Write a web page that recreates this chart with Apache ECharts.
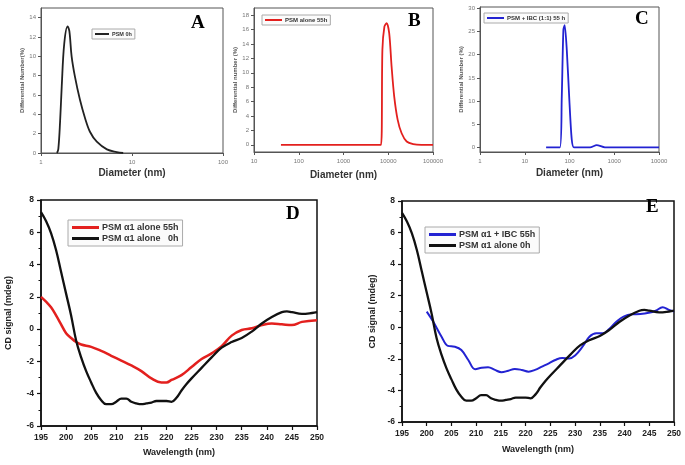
<!DOCTYPE html>
<html>
<head>
<meta charset="utf-8">
<script src="https://cdn.jsdelivr.net/npm/echarts@6/dist/echarts.min.js"></script>
<style>
html, body { margin: 0; padding: 0; background: #fff; }
#chart { width: 685px; height: 465px; }
</style>
</head>
<body>
<div id="chart"></div>
<script>
// --- DLS size distributions (diameter nm -> differential number %) ---
const sizeA = [1.5, 1.55, 1.62, 1.69, 1.8, 1.96, 2.05, 2.17, 2.36, 2.68, 3.05, 3.45, 4.1, 5.3, 6.8, 8];
const numA  = [0, 0.4, 3.2, 6.9, 11.3, 13.1, 12.6, 10.0, 7.9, 5.5, 3.6, 2.2, 1.17, 0.38, 0.1, 0];

const sizeB = [40, 100, 1000, 6900, 7400, 8200, 9200, 10500, 11900, 13600, 16200, 19900, 25800, 36000, 55000, 100000];
const numB  = [0, 0, 0, 0, 13.2, 16.4, 16.9, 15.5, 10.8, 6.7, 3.5, 1.6, 0.46, 0.1, 0, 0];

const sizeC = [30, 61, 67, 73, 78, 87, 99, 112, 126, 288, 405, 620, 10000];
const numC  = [0, 0, 10.4, 25.4, 26.4, 21, 10.4, 1.8, 0, 0, 0.5, 0, 0];

// --- CD spectra (wavelength nm -> mdeg) ---
const wl55 = [195, 196, 197, 198, 199, 200, 201, 202, 203, 205, 207, 209, 211, 213, 215, 217, 219, 220, 221, 223, 225, 227, 229, 231, 233, 235, 237, 239, 241, 243, 245, 247, 250];
const cd55 = [2.0, 1.7, 1.35, 0.85, 0.3, -0.25, -0.55, -0.8, -0.95, -1.1, -1.35, -1.65, -1.95, -2.25, -2.6, -3.05, -3.3, -3.3, -3.15, -2.85, -2.35, -1.85, -1.5, -1.05, -0.4, -0.05, 0.05, 0.25, 0.35, 0.3, 0.25, 0.45, 0.55];

const wl0h = [195, 196, 197, 198, 199, 200, 201, 202, 203, 204, 205, 206, 207, 208, 209, 210, 211, 212, 213, 214, 215, 216, 217, 218, 219, 220, 221, 222, 223, 224, 225, 227, 229, 231, 233, 235, 237, 239, 241, 243, 244, 245, 247, 249, 250];
const cd0h = [7.25, 6.7, 5.95, 4.9, 3.55, 2.2, 0.85, -0.7, -1.75, -2.6, -3.3, -3.95, -4.4, -4.65, -4.65, -4.5, -4.3, -4.3, -4.5, -4.6, -4.65, -4.6, -4.55, -4.45, -4.45, -4.45, -4.5, -4.25, -3.8, -3.4, -3.05, -2.4, -1.75, -1.15, -0.8, -0.55, -0.15, 0.35, 0.75, 1.05, 1.1, 1.05, 0.95, 1.0, 1.05];

const wlIBC = [200, 201.3, 203, 204.3, 205.7, 207, 208.4, 209.8, 211.1, 212.4, 213.8, 215.1, 216.5, 217.8, 219.2, 220.6, 221.9, 223.3, 224.7, 226, 227.4, 228.8, 230.1, 231.5, 232.9, 234.3, 235.6, 237, 238.4, 239.8, 241.5, 243.2, 244.9, 246.3, 247.7, 249, 250];
const cdIBC = [0.99, 0.36, -0.6, -1.18, -1.23, -1.44, -2.07, -2.66, -2.56, -2.53, -2.7, -2.85, -2.75, -2.64, -2.7, -2.81, -2.7, -2.49, -2.28, -2.07, -1.94, -1.97, -1.75, -1.23, -0.6, -0.38, -0.38, -0.07, 0.36, 0.67, 0.82, 0.84, 0.92, 1.05, 1.27, 1.1, 0.99];

const wlTicks = [195, 200, 205, 210, 215, 220, 225, 230, 235, 240, 245, 250];

const pairs = (xs, ys) => xs.map((x, i) => [x, ys[i]]);

const SANS = 'Liberation Sans';
const RED = '#e3201e', BLUE = '#2323d2', BLACK = '#111';

// small grey style for the DLS panels
function dlsX(grid, min, max, gap) {
    return {
        type: 'log', logBase: 10, gridIndex: grid, min: min, max: max,
        name: 'Diameter (nm)', nameLocation: 'middle', nameGap: gap,
        nameTextStyle: { fontFamily: SANS, fontWeight: 'bold', fontSize: 10, color: '#333' },
        axisLine: { onZero: false, lineStyle: { color: '#555', width: 1 } },
        axisTick: { length: 3, lineStyle: { color: '#555' } },
        axisLabel: { fontFamily: SANS, fontSize: 6, color: '#777', margin: 6,
                     formatter: v => String(Math.round(v)) },
        splitLine: { show: false }
    };
}
function dlsY(grid, min, max, ticks, name, gap) {
    return {
        type: 'value', gridIndex: grid, min: min, max: max,
        name: name, nameLocation: 'middle', nameGap: gap,
        nameTextStyle: { fontFamily: SANS, fontWeight: 'bold', fontSize: 6, color: '#555' },
        axisLine: { onZero: false, lineStyle: { color: '#555', width: 1 } },
        axisTick: { length: 3, customValues: ticks, lineStyle: { color: '#555' } },
        axisLabel: { fontFamily: SANS, fontSize: 6, color: '#777', margin: 5, customValues: ticks },
        splitLine: { show: false }
    };
}
function cdX(grid, gap) {
    return {
        type: 'value', gridIndex: grid, min: 195, max: 250, interval: 5,
        name: 'Wavelength (nm)', nameLocation: 'middle', nameGap: gap,
        nameTextStyle: { fontFamily: SANS, fontWeight: 'bold', fontSize: 9, color: '#222' },
        axisLine: { onZero: false, lineStyle: { color: '#111', width: 1.5 } },
        axisTick: { length: 4, lineStyle: { color: '#111', width: 1.2 } },
        axisLabel: { fontFamily: SANS, fontWeight: 'bold', fontSize: 8.5, color: '#222', margin: 7,
                     customValues: wlTicks },
        splitLine: { show: false }
    };
}
function cdY(grid, gap) {
    return {
        type: 'value', gridIndex: grid, min: -6, max: 8, interval: 2,
        name: 'CD signal (mdeg)', nameLocation: 'middle', nameGap: gap,
        nameTextStyle: { fontFamily: SANS, fontWeight: 'bold', fontSize: 9, color: '#222' },
        axisLine: { onZero: false, lineStyle: { color: '#111', width: 1.5 } },
        axisTick: { length: 4, lineStyle: { color: '#111', width: 1.2 } },
        minorTick: { show: true, splitNumber: 2, length: 2.5, lineStyle: { color: '#111' } },
        axisLabel: { fontFamily: SANS, fontWeight: 'bold', fontSize: 8.5, color: '#222', margin: 7 },
        splitLine: { show: false }
    };
}
function box(left, top, width, height, color, w) {
    return { left, top, width, height, show: true, borderColor: color, borderWidth: w, backgroundColor: 'transparent' };
}
function legend(names, left, top, fontSize, itemWidth, extra) {
    return Object.assign({
        data: names, left: left, top: top, orient: 'vertical',
        icon: 'rect', itemWidth: itemWidth, itemHeight: 2, itemGap: 2,
        padding: [2, 3], borderColor: '#aaa', borderWidth: 1, backgroundColor: '#fbfbfb',
        textStyle: { fontFamily: SANS, fontWeight: 'bold', fontSize: fontSize, color: '#333', padding: [0, 0, 0, -2] },
        selectedMode: false
    }, extra || {});
}
function line(name, x, y, data, color, width, smooth) {
    return {
        name: name, type: 'line', xAxisIndex: x, yAxisIndex: y, data: data,
        showSymbol: false, smooth: smooth, lineStyle: { color: color, width: width },
        itemStyle: { color: color }
    };
}
function letter(text, x, y) {
    return { type: 'text', left: x, top: y,
             style: { text: text, font: 'bold 19px "Liberation Serif"', fill: '#000' } };
}

const chart = echarts.init(document.getElementById('chart'));
chart.setOption({
    animation: false,
    backgroundColor: '#fff',
    grid: [
        box(41, 8, 182, 145, '#555', 1),
        box(254, 8, 179, 144, '#555', 1),
        box(480, 7, 179, 145, '#555', 1),
        box(41, 200, 276, 226, '#111', 1.5),
        box(402, 201, 272, 221, '#111', 1.5)
    ],
    xAxis: [
        dlsX(0, 1, 100, 15),
        dlsX(1, 10, 100000, 18),
        dlsX(2, 1, 10000, 16),
        cdX(3, 22),
        cdX(4, 23)
    ],
    yAxis: [
        dlsY(0, 0, 15, [0, 2, 4, 6, 8, 10, 12, 14], 'Differential Number(%)', 10),
        dlsY(1, -1, 19, [0, 2, 4, 6, 8, 10, 12, 14, 16, 18], 'Differential number (%)', 14),
        dlsY(2, -1, 30.3, [0, 5, 10, 15, 20, 25, 30], 'Differential Number (%)', 14),
        cdY(3, 28),
        cdY(4, 25)
    ],
    legend: [
        legend(['PSM 0h'], 92, 29, 5.5, 14),
        legend(['PSM alone 55h'], 262, 15, 6, 17),
        legend(['PSM + IBC (1:1) 55 h'], 484, 13, 6, 17),
        legend(['PSM α1 alone 55h', 'PSM α1 alone   0h'], 68, 220, 9, 27, { itemHeight: 3, padding: [3, 4] }),
        legend(['PSM α1 + IBC 55h', 'PSM α1 alone 0h'], 425, 227, 9, 27, { itemHeight: 3, padding: [3, 4] })
    ],
    series: [
        line('PSM 0h', 0, 0, pairs(sizeA, numA), '#222', 1.8, 0.35),
        line('PSM alone 55h', 1, 1, pairs(sizeB, numB), RED, 1.8, 0.3),
        line('PSM + IBC (1:1) 55 h', 2, 2, pairs(sizeC, numC), BLUE, 1.8, 0.25),
        line('PSM α1 alone 55h', 3, 3, pairs(wl55, cd55), RED, 2.5, 0.4),
        line('PSM α1 alone   0h', 3, 3, pairs(wl0h, cd0h), BLACK, 2.3, 0.4),
        line('PSM α1 + IBC 55h', 4, 4, pairs(wlIBC, cdIBC), BLUE, 2, 0.4),
        line('PSM α1 alone 0h', 4, 4, pairs(wl0h, cd0h), BLACK, 2.3, 0.4)
    ],
    graphic: [
        letter('A', 191, 14),
        letter('B', 408, 12),
        letter('C', 635, 10),
        letter('D', 286, 205),
        letter('E', 646, 198)
    ]
});
</script>
</body>
</html>
